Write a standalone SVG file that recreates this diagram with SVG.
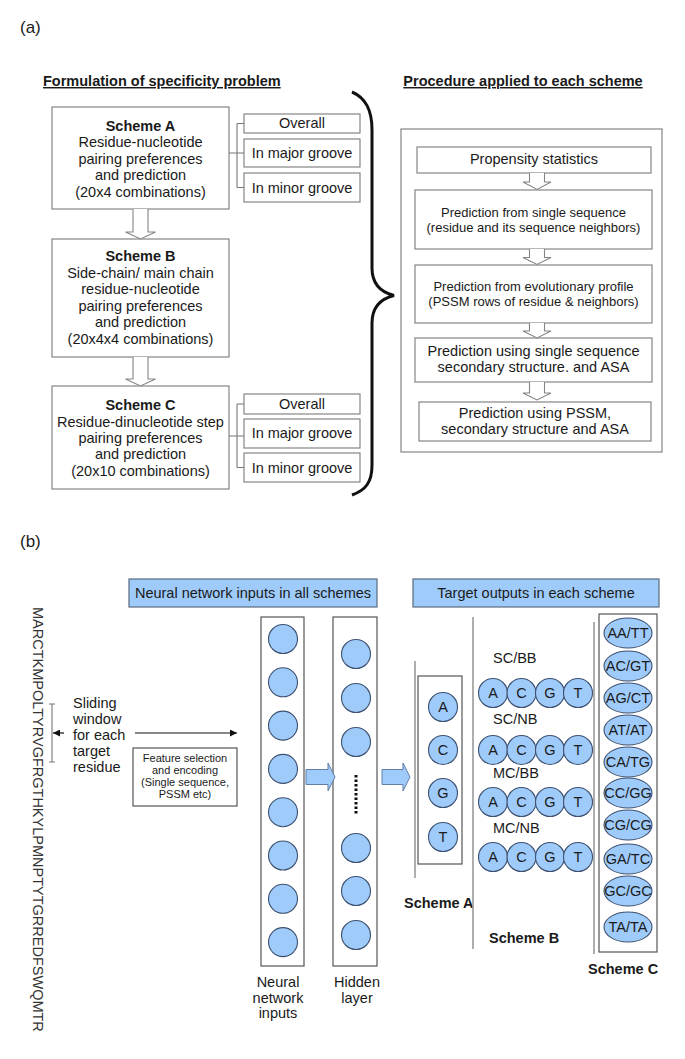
<svg xmlns="http://www.w3.org/2000/svg" width="685" height="1059" viewBox="0 0 685 1059">
<style>
text{font-family:"Liberation Sans",Arial,sans-serif;fill:#1a1a1a;font-size:14.5px}
.c{text-anchor:middle}
.b{font-weight:bold}
.s13{font-size:13px}
.s11{font-size:11px}
.box{fill:#fff;stroke:#858585;stroke-width:1.2}
.dbox{fill:#fff;stroke:#555;stroke-width:1.2}
.hol{fill:#fff;stroke:#858585;stroke-width:1.1}
.ln{fill:none;stroke:#777;stroke-width:1.1}
.hdr{fill:#9fcbfa;stroke:#5a6b80;stroke-width:1.2}
.nd{fill:#9fcbfa;stroke:#3d5170;stroke-width:1.1}
.blk{fill:#9fcbfa;stroke:#5f7fa8;stroke-width:1}
.sl{fill:none;stroke:#9a9a9a;stroke-width:1.6}
</style>
<defs>
<marker id="ah" viewBox="0 0 10 10" refX="10" refY="5" markerWidth="8" markerHeight="7" markerUnits="userSpaceOnUse" orient="auto"><path d="M0,0 L10,5 L0,10 Z" fill="#111"/></marker>
</defs>
<rect width="685" height="1059" fill="#fff"/>

<!-- Part (a) -->
<text x="20" y="33" style="font-size:17px">(a)</text>
<text x="43" y="86" class="b" text-decoration="underline">Formulation of specificity problem</text>
<text x="523" y="86" class="b c" text-decoration="underline">Procedure applied to each scheme</text>

<g id="schemeA">
<rect x="52" y="107" width="177" height="102" class="box"/>
<text x="140.5" y="131" class="c b">Scheme A</text>
<text x="140.5" y="147.4" class="c">Residue-nucleotide</text>
<text x="140.5" y="163.8" class="c">pairing preferences</text>
<text x="140.5" y="180.2" class="c">and prediction</text>
<text x="140.5" y="196.6" class="c">(20x4 combinations)</text>
</g>
<g id="A-overall"><rect x="244" y="114" width="116" height="19" class="box"/><text x="302" y="128.3" class="c">Overall</text></g>
<g id="A-major"><rect x="244" y="139" width="116" height="28" class="box"/><text x="302" y="157.7" class="c">In major groove</text></g>
<g id="A-minor"><rect x="244" y="173" width="116" height="29" class="box"/><text x="302" y="192.7" class="c">In minor groove</text></g>

<g id="schemeB">
<rect x="52" y="239" width="177" height="118" class="box"/>
<text x="140.5" y="261" class="c b">Scheme B</text>
<text x="140.5" y="277.6" class="c">Side-chain/ main chain</text>
<text x="140.5" y="294.2" class="c">residue-nucleotide</text>
<text x="140.5" y="310.8" class="c">pairing preferences</text>
<text x="140.5" y="327.4" class="c">and prediction</text>
<text x="140.5" y="344" class="c">(20x4x4 combinations)</text>
</g>

<g id="schemeC">
<rect x="52" y="386" width="177" height="103" class="box"/>
<text x="140.5" y="410" class="c b">Scheme C</text>
<text x="140.5" y="426.6" class="c">Residue-dinucleotide step</text>
<text x="140.5" y="443" class="c">pairing preferences</text>
<text x="140.5" y="459.4" class="c">and prediction</text>
<text x="140.5" y="476" class="c">(20x10 combinations)</text>
</g>
<g id="C-overall"><rect x="244" y="394" width="116" height="20" class="box"/><text x="302" y="409.3" class="c">Overall</text></g>
<g id="C-major"><rect x="244" y="419" width="116" height="29" class="box"/><text x="302" y="438.3" class="c">In major groove</text></g>
<g id="C-minor"><rect x="244" y="453" width="116" height="29" class="box"/><text x="302" y="472.7" class="c">In minor groove</text></g>

<g id="procedure">
<rect x="401" y="129" width="261" height="323" class="box"/>
</g>
<g id="p1"><rect x="417" y="147" width="234" height="26" class="box"/><text x="534" y="164" class="c">Propensity statistics</text></g>
<g id="p2"><rect x="415" y="190" width="237" height="59" class="box"/>
<text x="533.5" y="217" class="c s13">Prediction from single sequence</text>
<text x="533.5" y="232" class="c s13">(residue and its sequence neighbors)</text></g>
<g id="p3"><rect x="415" y="265" width="237" height="58" class="box"/>
<text x="533.5" y="291" class="c s13">Prediction from evolutionary profile</text>
<text x="533.5" y="306" class="c s13">(PSSM rows of residue &amp; neighbors)</text></g>
<g id="p4"><rect x="415" y="338" width="237" height="44" class="box"/>
<text x="533.5" y="356" class="c">Prediction using single sequence</text>
<text x="533.5" y="372" class="c">secondary structure. and ASA</text></g>
<g id="p5"><rect x="419" y="402" width="232" height="39" class="box"/>
<text x="535" y="418" class="c">Prediction using PSSM,</text>
<text x="535" y="434" class="c">secondary structure and ASA</text></g>

<g id="connectors-a">
<path d="M133,209 L133,232 L125.5,232 L140.5,239 L155.5,232 L148,232 L148,209" class="hol"/>
<path d="M133,357 L133,379 L125.5,379 L140.5,386 L155.5,379 L148,379 L148,357" class="hol"/>
<path d="M229,153 L237,153 M237,123.5 L237,187.5 M237,123.5 L244,123.5 M237,153 L244,153 M237,187.5 L244,187.5" class="ln"/>
<path d="M229,436 L237,436 M237,404 L237,467.5 M237,404 L244,404 M237,436 L244,436 M237,467.5 L244,467.5" class="ln"/>
<path d="M529.5,173 L529.5,182 L523,182 L537,189.5 L551,182 L544.5,182 L544.5,173" class="hol"/>
<path d="M529.5,249 L529.5,257.5 L523,257.5 L537,264.5 L551,257.5 L544.5,257.5 L544.5,249" class="hol"/>
<path d="M529.5,323 L529.5,331 L523,331 L537,338 L551,331 L544.5,331 L544.5,323" class="hol"/>
<path d="M529.5,382 L529.5,393 L523,393 L537,400 L551,393 L544.5,393 L544.5,382" class="hol"/>
<path d="M352,92 C366,98 372,110 372,130 L372,268 C372,284 380,292 394,295.5 C380,299 372,307 372,323 L372,465 C372,482 366,490 352,495" fill="none" stroke="#111" stroke-width="3"/>
</g>

<!-- Part (b) -->
<text x="20" y="547" style="font-size:17px">(b)</text>

<g id="hdr-inputs"><rect x="129" y="579" width="248" height="28" class="hdr"/><text x="253" y="597.5" class="c">Neural network inputs in all schemes</text></g>
<g id="hdr-outputs"><rect x="413" y="579" width="246" height="28" class="hdr"/><text x="536" y="597.5" class="c">Target outputs in each scheme</text></g>

<g id="sequence">
<text transform="translate(33,607) rotate(90)" style="fill:#333">MARCTKMPOLTYRVGFRGTHKYLPMNPTYTGRREDFSWQMTR</text>
</g>

<g id="sliding">
<text x="73" y="708">Sliding</text>
<text x="73" y="724">window</text>
<text x="73" y="740">for each</text>
<text x="73" y="756">target</text>
<text x="73" y="772">residue</text>
</g>

<g id="feature">
<rect x="133" y="748" width="104" height="58" class="dbox"/>
<text x="185" y="762" class="c s11">Feature selection</text>
<text x="185" y="774" class="c s11">and encoding</text>
<text x="185" y="786" class="c s11">(Single sequence,</text>
<text x="185" y="798" class="c s11">PSSM etc)</text>
</g>

<g id="inputs">
<rect x="261" y="617" width="43" height="349" class="dbox"/>
<circle cx="283" cy="639" r="14.5" class="nd"/>
<circle cx="283" cy="682.3" r="14.5" class="nd"/>
<circle cx="283" cy="725.6" r="14.5" class="nd"/>
<circle cx="283" cy="768.9" r="14.5" class="nd"/>
<circle cx="283" cy="812.2" r="14.5" class="nd"/>
<circle cx="283" cy="855.5" r="14.5" class="nd"/>
<circle cx="283" cy="898.8" r="14.5" class="nd"/>
<circle cx="283" cy="942.1" r="14.5" class="nd"/>
<text x="278" y="987" class="c">Neural</text>
<text x="278" y="1003" class="c">network</text>
<text x="278" y="1018" class="c">inputs</text>
</g>

<g id="hidden">
<rect x="333" y="617" width="44" height="349" class="dbox"/>
<circle cx="356" cy="654" r="14.5" class="nd"/>
<circle cx="356" cy="698" r="14.5" class="nd"/>
<circle cx="356" cy="742" r="14.5" class="nd"/>
<circle cx="356" cy="848" r="14.5" class="nd"/>
<circle cx="356" cy="891" r="14.5" class="nd"/>
<circle cx="356" cy="935" r="14.5" class="nd"/>
<line x1="356" y1="775" x2="356" y2="815" stroke="#111" stroke-width="3" stroke-dasharray="2.5,2"/>
<text x="357" y="987" class="c">Hidden</text>
<text x="357" y="1003" class="c">layer</text>
</g>

<g id="schemeA-out">
<rect x="418" y="676" width="44" height="188" class="dbox"/>
<circle cx="443" cy="707" r="14.5" class="nd"/><text x="443" y="712" class="c">A</text>
<circle cx="443" cy="750" r="14.5" class="nd"/><text x="443" y="755" class="c">C</text>
<circle cx="443" cy="793" r="14.5" class="nd"/><text x="443" y="798" class="c">G</text>
<circle cx="443" cy="837" r="14.5" class="nd"/><text x="443" y="842" class="c">T</text>
<text x="404" y="908" class="b">Scheme A</text>
</g>

<g id="schemeB-out">
<text x="493" y="663">SC/BB</text>
<circle cx="493" cy="693" r="14.5" class="nd"/><text x="493" y="698" class="c">A</text>
<circle cx="521.5" cy="693" r="14.5" class="nd"/><text x="521.5" y="698" class="c">C</text>
<circle cx="550" cy="693" r="14.5" class="nd"/><text x="550" y="698" class="c">G</text>
<circle cx="578" cy="693" r="14.5" class="nd"/><text x="578" y="698" class="c">T</text>
<text x="493" y="724">SC/NB</text>
<circle cx="493" cy="750" r="14.5" class="nd"/><text x="493" y="755" class="c">A</text>
<circle cx="521.5" cy="750" r="14.5" class="nd"/><text x="521.5" y="755" class="c">C</text>
<circle cx="550" cy="750" r="14.5" class="nd"/><text x="550" y="755" class="c">G</text>
<circle cx="578" cy="750" r="14.5" class="nd"/><text x="578" y="755" class="c">T</text>
<text x="493" y="778">MC/BB</text>
<circle cx="493" cy="802" r="14.5" class="nd"/><text x="493" y="807" class="c">A</text>
<circle cx="521.5" cy="802" r="14.5" class="nd"/><text x="521.5" y="807" class="c">C</text>
<circle cx="550" cy="802" r="14.5" class="nd"/><text x="550" y="807" class="c">G</text>
<circle cx="578" cy="802" r="14.5" class="nd"/><text x="578" y="807" class="c">T</text>
<text x="493" y="833">MC/NB</text>
<circle cx="493" cy="857" r="14.5" class="nd"/><text x="493" y="862" class="c">A</text>
<circle cx="521.5" cy="857" r="14.5" class="nd"/><text x="521.5" y="862" class="c">C</text>
<circle cx="550" cy="857" r="14.5" class="nd"/><text x="550" y="862" class="c">G</text>
<circle cx="578" cy="857" r="14.5" class="nd"/><text x="578" y="862" class="c">T</text>
<text x="489" y="943" class="b">Scheme B</text>
</g>

<g id="schemeC-out">
<rect x="599" y="614" width="58" height="338" class="dbox"/>
<ellipse cx="628" cy="633" rx="24" ry="15" class="nd"/><text x="628" y="638" class="c">AA/TT</text>
<ellipse cx="628" cy="666" rx="24" ry="15" class="nd"/><text x="628" y="671" class="c">AC/GT</text>
<ellipse cx="628" cy="698" rx="24" ry="15" class="nd"/><text x="628" y="703" class="c">AG/CT</text>
<ellipse cx="628" cy="730" rx="24" ry="15" class="nd"/><text x="628" y="735" class="c">AT/AT</text>
<ellipse cx="628" cy="762" rx="24" ry="15" class="nd"/><text x="628" y="767" class="c">CA/TG</text>
<ellipse cx="628" cy="793" rx="24" ry="15" class="nd"/><text x="628" y="798" class="c">CC/GG</text>
<ellipse cx="628" cy="825" rx="24" ry="15" class="nd"/><text x="628" y="830" class="c">CG/CG</text>
<ellipse cx="628" cy="859" rx="24" ry="15" class="nd"/><text x="628" y="864" class="c">GA/TC</text>
<ellipse cx="628" cy="891" rx="24" ry="15" class="nd"/><text x="628" y="896" class="c">GC/GC</text>
<ellipse cx="628" cy="927" rx="24" ry="15" class="nd"/><text x="628" y="932" class="c">TA/TA</text>
<text x="588" y="974" class="b">Scheme C</text>
</g>

<g id="connectors-b">
<path d="M49,704 L55,704 M52,704 L52,762 M49,762 L55,762" class="ln" stroke="#555"/>
<line x1="64" y1="733" x2="53" y2="733" stroke="#111" stroke-width="1.2" marker-end="url(#ah)"/>
<line x1="135" y1="733" x2="237" y2="733" stroke="#111" stroke-width="1.2" marker-end="url(#ah)"/>
<path d="M306,769.5 L328,769.5 L328,763 L335,777 L328,791 L328,784.5 L306,784.5 Z" class="blk"/>
<path d="M382,769.5 L403,769.5 L403,763 L410,777 L403,791 L403,784.5 L382,784.5 Z" class="blk"/>
<line x1="415" y1="661" x2="415" y2="878" class="sl"/>
<line x1="473" y1="617" x2="473" y2="949" class="sl"/>
<line x1="594" y1="622" x2="594" y2="954" class="sl"/>
</g>
</svg>
